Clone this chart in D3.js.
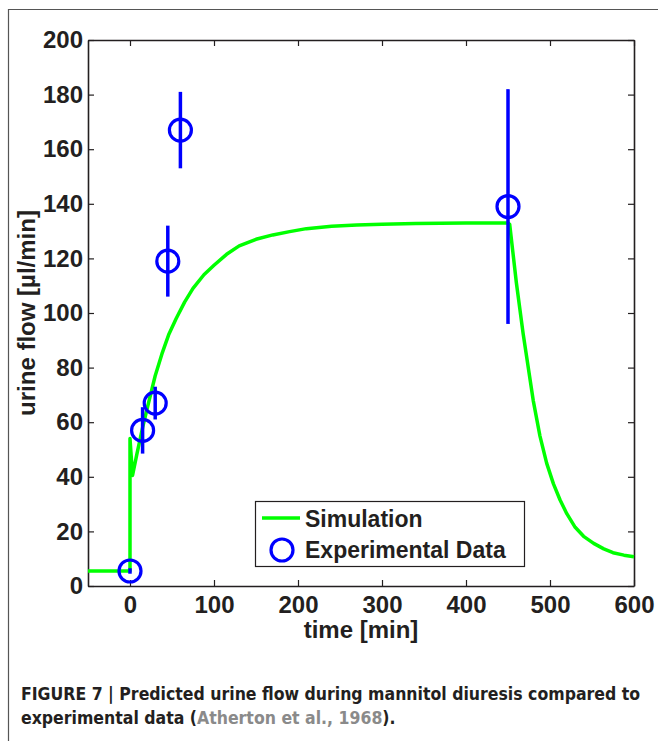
<!DOCTYPE html>
<html lang="en">
<head>
<meta charset="UTF-8"/>
<title>Figure 7</title>
<script src="https://d3js.org/d3.v7.min.js"></script>
<style>
	body { margin: 0; background: white; }
	svg text { fill: #231f20; }
</style>
</head>
<body>
<script>
// simulation curve
var simTime = [-50, 0, 0, 3, 8, 15, 22, 30, 38, 46, 55, 65, 75, 88, 100, 115, 130, 150, 170, 190, 210, 240, 270, 300, 340, 400, 450,
	452, 460, 468, 480, 488, 496, 504, 512, 520, 530, 540, 552, 564, 575, 588, 600];
var simFlow = [5.5, 5.5, 54, 40.5, 48, 58, 67, 77, 85, 92, 98, 104, 109, 114, 117.5, 121.5, 124.6, 127, 128.6, 129.8, 130.9, 131.8, 132.2, 132.5, 132.8, 133, 133,
	132.5, 111, 92.5, 68, 55, 45, 37.5, 31.5, 26.5, 21.5, 18.2, 15.6, 13.6, 12.2, 11.3, 10.7];

// experimental data (Atherton et al., 1968)
var expTime = [0, 15, 30, 45, 60, 450];
var expFlow = [5.5, 57, 67, 119, 167, 139];
var expErr = [1, 8.5, 6, 13, 14, 43];

var xTicks = [0, 100, 200, 300, 400, 500, 600];
var yTicks = [0, 20, 40, 60, 80, 100, 120, 140, 160, 180, 200];

var w = 658, h = 741;
var mLeft = 88, mRight = 634, mTop = 40, mBottom = 586;
var font = "'Liberation Sans', Arial, Helvetica, sans-serif";

var svg = d3.select("body").append("svg")
	.attr("width", w)
	.attr("height", h);

// outer figure frame
svg.append("path")
	.attr("d", "M8.5," + h + "V9.5H" + w)
	.attr("fill", "none")
	.attr("stroke", "#555")
	.attr("stroke-width", 1.2);

var x = d3.scaleLinear().domain([-50, 600]).range([mLeft, mRight]);
var y = d3.scaleLinear().domain([0, 200]).range([mBottom, mTop]);

// axes, ticks pointing inward on all four sides
function styleAxis(g) {
	g.select(".domain").attr("stroke", "#231f20").attr("stroke-width", 1.6);
	g.selectAll(".tick line").attr("stroke", "#231f20").attr("stroke-width", 1.2);
	g.selectAll("text").attr("font-family", font).attr("font-size", 24)
		.attr("font-weight", "bold").attr("fill", "#231f20");
}

svg.append("g").attr("transform", "translate(0," + mBottom + ")")
	.call(d3.axisBottom(x).tickValues(xTicks).tickSize(-6).tickPadding(10).tickSizeOuter(0))
	.call(styleAxis);
svg.append("g").attr("transform", "translate(0," + mTop + ")")
	.call(d3.axisTop(x).tickValues(xTicks).tickSize(-6).tickFormat("").tickSizeOuter(0))
	.call(styleAxis);
svg.append("g").attr("transform", "translate(" + mLeft + ",0)")
	.call(d3.axisLeft(y).tickValues(yTicks).tickSize(-6).tickPadding(5).tickSizeOuter(0))
	.call(styleAxis);
svg.append("g").attr("transform", "translate(" + mRight + ",0)")
	.call(d3.axisRight(y).tickValues(yTicks).tickSize(-6).tickFormat("").tickSizeOuter(0))
	.call(styleAxis);

svg.append("text")
	.attr("x", (mLeft + mRight) / 2)
	.attr("y", 638)
	.attr("text-anchor", "middle")
	.attr("font-family", font).attr("font-size", 24).attr("font-weight", "bold")
	.text("time [min]");

svg.append("text")
	.attr("transform", "translate(35," + (mTop + mBottom) / 2 + ") rotate(-90)")
	.attr("text-anchor", "middle")
	.attr("font-family", font).attr("font-size", 24).attr("font-weight", "bold")
	.text("urine flow [µl/min]");

// simulation line
var sim = simTime.map(function(t, i) { return [t, simFlow[i]]; });
var line = d3.line()
	.x(function(d) { return x(d[0]); })
	.y(function(d) { return y(d[1]); });

svg.append("path")
	.datum(sim)
	.attr("d", line)
	.attr("fill", "none")
	.attr("stroke", "#00ff00")
	.attr("stroke-width", 3.5)
	.attr("stroke-linejoin", "round");

// experimental points with error bars
var exp = expTime.map(function(t, i) { return { t: t, v: expFlow[i], e: expErr[i] }; });

svg.selectAll(".err")
	.data(exp)
	.enter()
	.append("line")
	.attr("class", "err")
	.attr("x1", function(d) { return x(d.t); })
	.attr("x2", function(d) { return x(d.t); })
	.attr("y1", function(d) { return y(d.v - d.e); })
	.attr("y2", function(d) { return y(d.v + d.e); })
	.attr("stroke", "#0000ff")
	.attr("stroke-width", 3.5);

svg.selectAll(".pt")
	.data(exp)
	.enter()
	.append("circle")
	.attr("class", "pt")
	.attr("cx", function(d) { return x(d.t); })
	.attr("cy", function(d) { return y(d.v); })
	.attr("r", 11)
	.attr("fill", "none")
	.attr("stroke", "#0000ff")
	.attr("stroke-width", 3.2);

// legend
var lg = svg.append("g");
lg.append("rect")
	.attr("x", 255.5).attr("y", 501.5)
	.attr("width", 269).attr("height", 65)
	.attr("fill", "white")
	.attr("stroke", "#231f20")
	.attr("stroke-width", 1.2);
lg.append("line")
	.attr("x1", 262).attr("x2", 300)
	.attr("y1", 518).attr("y2", 518)
	.attr("stroke", "#00ff00").attr("stroke-width", 3.5);
lg.append("circle")
	.attr("cx", 282).attr("cy", 550).attr("r", 11)
	.attr("fill", "none").attr("stroke", "#0000ff").attr("stroke-width", 3.2);
lg.append("text")
	.attr("x", 305).attr("y", 527)
	.attr("font-family", font).attr("font-size", 23).attr("font-weight", "bold")
	.text("Simulation");
lg.append("text")
	.attr("x", 305).attr("y", 558)
	.attr("font-family", font).attr("font-size", 23).attr("font-weight", "bold")
	.text("Experimental Data");

// caption
var capFont = "'Liberation Sans Narrow', 'DejaVu Sans Condensed', 'Arial Narrow', sans-serif";
svg.append("text")
	.attr("x", 21).attr("y", 700)
	.attr("font-family", capFont).attr("font-size", 17.5).attr("font-weight", "bold")
	.text("FIGURE 7 | Predicted urine flow during mannitol diuresis compared to");
var cap2 = svg.append("text")
	.attr("x", 21).attr("y", 724)
	.attr("font-family", capFont).attr("font-size", 17.5).attr("font-weight", "bold");
cap2.append("tspan").text("experimental data (");
cap2.append("tspan").style("fill", "#8a8a8a").text("Atherton et al., 1968");
cap2.append("tspan").text(").");
</script>
</body>
</html>
